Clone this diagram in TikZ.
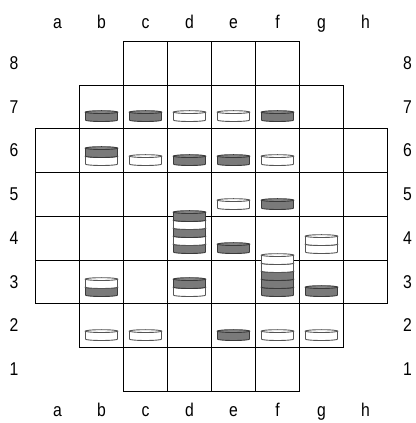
\documentclass[tikz,border=0pt]{standalone}
\usepackage{fontspec}
\setmainfont{Liberation Sans}[FakeStretch=0.85]
\definecolor{dkfill}{HTML}{7A7A7A}
\definecolor{dktopc}{HTML}{868686}
\definecolor{dkline}{HTML}{3A3A3A}
\definecolor{wtline}{HTML}{555555}
\tikzset{
  cellbox/.style={draw=black,line width=1.5pt},
  dkbody/.style={fill=dkfill,draw=dkline,line width=0.9pt,line join=round},
  dktop/.style={fill=dktopc,draw=dkline,line width=0.9pt},
  wtbody/.style={fill=white,draw=wtline,line width=0.9pt,line join=round},
  wttop/.style={fill=white,draw=wtline,line width=0.9pt},
  lbl/.style={font=\fontsize{18.5}{20}\selectfont,inner sep=0pt}
}
\pgfmathdeclarefunction{rowy}{1}{%
  \pgfmathparse{{31.5,75.5,119.5,162.5,206.5,250.5,294.5,337.5,381.5}[#1-1]}%
}
\newcommand\mydisc[4]{%
  \pgfmathsetmacro\cx{35.5+(#1-0.5)*44}%
  \pgfmathsetmacro\yl{rowy(#2)+8.4+8*#3}%
  \pgfmathsetmacro\yt{\yl+8}%
  \draw[#4body] (\cx-16,\yt) -- (\cx-16,\yl) arc[start angle=180,end angle=360,x radius=16,y radius=1.4] -- (\cx+16,\yt) -- cycle;
  \draw[#4top] (\cx,\yt) ellipse[x radius=16,y radius=1.4];
}
\begin{document}
\begin{tikzpicture}[x=1pt,y=1pt]
\useasboundingbox (0,0) rectangle (415,423);
% board cells
\foreach \r/\a/\b in {8/3/6,7/2/7,6/1/8,5/1/8,4/1/8,3/1/8,2/2/7,1/3/6}{
  \foreach \c in {\a,...,\b}{
    \pgfmathsetmacro\ylo{rowy(\r)}
    \pgfmathsetmacro\yhi{rowy(\r+1)}
    \draw[cellbox] ({35.5+(\c-1)*44},\ylo) rectangle ({35.5+\c*44},\yhi);
  }
}
% labels
\foreach \l [count=\i] in {a,b,c,d,e,f,g,h}{
  \node[lbl,anchor=base] (top\l) at ({35.5+(\i-0.5)*44},{423-28.3}) {\l};
  \node[lbl,anchor=base] (bot\l) at ({35.5+(\i-0.5)*44},{423-417}) {\l};
}
\foreach \r in {1,...,8}{
  \pgfmathsetmacro\ymid{(rowy(\r)+rowy(\r+1))/2}
  \node[lbl] (left\r) at (14,\ymid) {\r};
  \node[lbl] (right\r) at (407.5,\ymid) {\r};
}
% row 7
\mydisc{2}{7}{0}{dk}
\mydisc{3}{7}{0}{dk}
\mydisc{4}{7}{0}{wt}
\mydisc{5}{7}{0}{wt}
\mydisc{6}{7}{0}{dk}
% row 6
\mydisc{2}{6}{0}{wt}
\mydisc{2}{6}{1}{dk}
\mydisc{3}{6}{0}{wt}
\mydisc{4}{6}{0}{dk}
\mydisc{5}{6}{0}{dk}
\mydisc{6}{6}{0}{wt}
% row 5
\mydisc{5}{5}{0}{wt}
\mydisc{6}{5}{0}{dk}
% row 4
\mydisc{4}{4}{0}{dk}
\mydisc{4}{4}{1}{wt}
\mydisc{4}{4}{2}{dk}
\mydisc{4}{4}{3}{wt}
\mydisc{4}{4}{4}{dk}
\mydisc{5}{4}{0}{dk}
\mydisc{7}{4}{0}{wt}
\mydisc{7}{4}{1}{wt}
% row 3
\mydisc{2}{3}{0}{dk}
\mydisc{2}{3}{1}{wt}
\mydisc{4}{3}{0}{wt}
\mydisc{4}{3}{1}{dk}
\mydisc{6}{3}{0}{dk}
\mydisc{6}{3}{1}{dk}
\mydisc{6}{3}{2}{dk}
\mydisc{6}{3}{3}{wt}
\mydisc{6}{3}{4}{wt}
\mydisc{7}{3}{0}{dk}
% row 2
\mydisc{2}{2}{0}{wt}
\mydisc{3}{2}{0}{wt}
\mydisc{5}{2}{0}{dk}
\mydisc{6}{2}{0}{wt}
\mydisc{7}{2}{0}{wt}
\end{tikzpicture}
\end{document}
